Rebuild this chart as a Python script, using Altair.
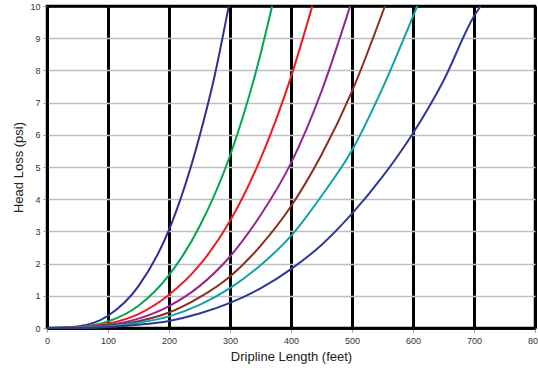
import altair as alt
import pandas as pd

series_names = ["A", "B", "C", "D", "E", "F", "G"]
series_colors = ["#2E3192", "#00A651", "#ED1C24", "#92278F", "#8C2D1F", "#0FA3A3", "#2E3A96"]

len_a = [0, 50, 100, 150, 200, 250, 275, 298]
loss_a = [0, 0.05, 0.38, 1.3, 3.05, 5.95, 7.85, 10]

len_b = [0, 50, 100, 150, 200, 250, 300, 350, 369]
loss_b = [0, 0.03, 0.2, 0.69, 1.64, 3.15, 5.35, 8.5, 10]

len_c = [0, 50, 100, 150, 200, 250, 300, 350, 400, 435]
loss_c = [0, 0.02, 0.13, 0.43, 1.03, 1.95, 3.32, 5.25, 7.8, 10]

len_d = [0, 50, 100, 150, 200, 250, 300, 350, 400, 450, 497]
loss_d = [0, 0.01, 0.09, 0.29, 0.68, 1.3, 2.22, 3.5, 5.12, 7.35, 10]

len_e = [0, 50, 100, 150, 200, 250, 300, 350, 400, 450, 500, 554]
loss_e = [0, 0.01, 0.06, 0.21, 0.48, 0.95, 1.6, 2.55, 3.78, 5.38, 7.35, 10]

len_f = [0, 50, 100, 150, 200, 250, 300, 350, 400, 450, 500, 550, 600, 607]
loss_f = [0, 0.01, 0.05, 0.16, 0.36, 0.72, 1.24, 1.95, 2.86, 4.1, 5.52, 7.45, 9.68, 10]

len_g = [0, 50, 100, 150, 200, 250, 300, 350, 400, 450, 500, 550, 600, 650, 700, 711]
loss_g = [0, 0.0, 0.03, 0.1, 0.22, 0.45, 0.78, 1.23, 1.83, 2.58, 3.55, 4.7, 6.05, 7.68, 9.68, 10]

x_ticks = [0, 100, 200, 300, 400, 500, 600, 700, 800]
y_ticks = [0, 1, 2, 3, 4, 5, 6, 7, 8, 9, 10]

rows = []
for name, xs, ys in zip(series_names,
                        [len_a, len_b, len_c, len_d, len_e, len_f, len_g],
                        [loss_a, loss_b, loss_c, loss_d, loss_e, loss_f, loss_g]):
    for xv, yv in zip(xs, ys):
        rows.append({"series": name, "length": xv, "loss": yv})
df = pd.DataFrame(rows)

FONT = "Liberation Sans"

chart = alt.Chart(df).mark_line(strokeWidth=2, interpolate="monotone").encode(
    x=alt.X("length:Q",
            scale=alt.Scale(domain=[0, 800], nice=False),
            axis=alt.Axis(values=x_ticks, title="Dripline Length (feet)",
                          grid=True, gridColor="#000000", gridWidth=3,
                          domainColor="#000000", domainWidth=2.5,
                          tickColor="#999999", tickSize=4, tickWidth=1,
                          labelFlush=False, labelFont=FONT, labelFontSize=9,
                          labelColor="#333333", labelPadding=4,
                          titleFont=FONT, titleFontSize=13, titleFontWeight="normal",
                          titleColor="#222222", titlePadding=5)),
    y=alt.Y("loss:Q",
            scale=alt.Scale(domain=[0, 10], nice=False),
            axis=alt.Axis(values=y_ticks, title="Head Loss (psi)",
                          grid=True,
                          gridColor={"condition": {"test": "datum.value === 10 || datum.value === 0", "value": "#000000"}, "value": "#BFBFBF"},
                          gridWidth={"condition": {"test": "datum.value === 10 || datum.value === 0", "value": 2.5}, "value": 1.5},
                          domainColor="#000000", domainWidth=2.5,
                          tickColor="#999999", tickSize=4, tickWidth=1,
                          labelFlush=False, labelFont=FONT, labelFontSize=9,
                          labelColor="#333333", labelPadding=3,
                          titleFont=FONT, titleFontSize=13, titleFontWeight="normal",
                          titleColor="#222222", titlePadding=4)),
    color=alt.Color("series:N", scale=alt.Scale(domain=series_names, range=series_colors), legend=None),
    detail="series:N",
).properties(
    width=488, height=322,
    autosize=alt.AutoSizeParams(type="none"),
    padding={"left": 47, "top": 6, "right": 3, "bottom": 40},
    background="#FFFFFF",
).configure_view(stroke="#000000", strokeWidth=2.5)

chart.save("out.html", embed_options={"renderer": "svg", "actions": False})
